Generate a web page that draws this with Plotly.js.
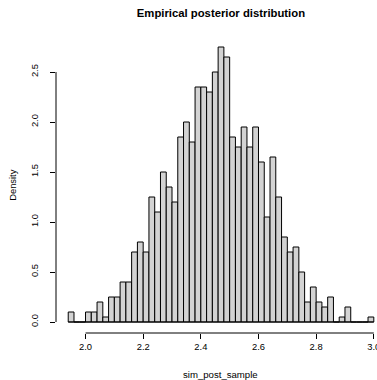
<!DOCTYPE html>
<html>
<head>
<meta charset="utf-8">
<script src="https://cdn.plot.ly/plotly-3.0.1.min.js"></script>
<style>
html, body { margin: 0; padding: 0; background: #ffffff; overflow: hidden; }
#chart { width: 377px; height: 380px; }
</style>
</head>
<body>
<div id="chart"></div>
<script>
// Histogram of sim_post_sample (bin width 0.02)
const binStart = [1.94, 1.96, 1.98, 2.00, 2.02, 2.04, 2.06, 2.08, 2.10, 2.12,
                  2.14, 2.16, 2.18, 2.20, 2.22, 2.24, 2.26, 2.28, 2.30, 2.32,
                  2.34, 2.36, 2.38, 2.40, 2.42, 2.44, 2.46, 2.48, 2.50, 2.52,
                  2.54, 2.56, 2.58, 2.60, 2.62, 2.64, 2.66, 2.68, 2.70, 2.72,
                  2.74, 2.76, 2.78, 2.80, 2.82, 2.84, 2.86, 2.88, 2.90, 2.92,
                  2.94, 2.96, 2.98];
const density = [0.10, 0.00, 0.00, 0.10, 0.10, 0.20, 0.05, 0.25, 0.25, 0.40,
                 0.40, 0.70, 0.80, 0.70, 1.25, 1.10, 1.50, 1.35, 1.20, 1.85,
                 2.00, 1.80, 2.35, 2.35, 2.30, 2.50, 2.75, 2.65, 1.85, 1.75,
                 1.95, 1.75, 1.95, 1.60, 1.05, 1.65, 1.25, 0.85, 0.70, 0.75,
                 0.50, 0.20, 0.35, 0.20, 0.15, 0.25, 0.00, 0.05, 0.15, 0.00,
                 0.00, 0.00, 0.05];
const binWidth = 0.02;
const xTicks = [2.0, 2.2, 2.4, 2.6, 2.8, 3.0];
const yTicks = [0.0, 0.5, 1.0, 1.5, 2.0, 2.5];
const xTickText = ["2.0", "2.2", "2.4", "2.6", "2.8", "3.0"];
const yTickText = ["0.0", "0.5", "1.0", "1.5", "2.0", "2.5"];
const titleText = "Empirical posterior distribution";
const xLabel = "sim_post_sample";
const yLabel = "Density";

const FONT = "Liberation Sans, Arial, Helvetica, sans-serif";
const centers = binStart.map(b => b + binWidth / 2);
const lastEdge = binStart[binStart.length - 1] + binWidth;

const trace = {
  type: "bar",
  x: centers,
  y: density,
  width: binStart.map(() => binWidth),
  marker: { color: "#D3D3D3", line: { color: "#000000", width: 1 } },
  hoverinfo: "x+y"
};

const layout = {
  width: 377,
  height: 380,
  margin: { l: 56, r: 0, t: 36, b: 47, pad: 0 },
  paper_bgcolor: "#ffffff",
  plot_bgcolor: "#ffffff",
  showlegend: false,
  bargap: 0,
  font: { family: FONT, size: 9.4, color: "#000000" },
  title: {
    text: titleText,
    font: { family: FONT, size: 11.3, weight: "bold", color: "#000000" },
    xref: "container", x: 0.586, xanchor: "center",
    yref: "container", y: 0.966, yanchor: "middle"
  },
  xaxis: {
    range: [1.8976, 3.0111],
    tickmode: "array", tickvals: xTicks, ticktext: xTickText,
    ticks: "outside", ticklen: 5, tickwidth: 1, tickcolor: "#000000",
    ticklabeloverflow: "allow",
    showline: false, showgrid: false, zeroline: false,
    tickfont: { family: FONT, size: 9.4, color: "#000000" },
    fixedrange: true
  },
  yaxis: {
    range: [-0.11, 2.86],
    tickmode: "array", tickvals: yTicks, ticktext: yTickText,
    ticks: "outside", ticklen: 5, tickwidth: 1, tickcolor: "#000000",
    tickangle: -90,
    ticklabelstandoff: 8,
    showline: false, showgrid: false, zeroline: false,
    tickfont: { family: FONT, size: 9.4, color: "#000000" },
    fixedrange: true
  },
  shapes: [
    { type: "line", xref: "x", yref: "paper", x0: xTicks[0], x1: xTicks[xTicks.length - 1], y0: 0, y1: 0,
      line: { color: "#000000", width: 1 } },
    { type: "line", xref: "paper", yref: "y", x0: 0, x1: 0, y0: yTicks[0], y1: yTicks[yTicks.length - 1],
      line: { color: "#000000", width: 1 } },
    { type: "line", xref: "x", yref: "y", x0: binStart[0], x1: lastEdge, y0: 0, y1: 0,
      line: { color: "#000000", width: 1 } }
  ],
  annotations: [
    { text: xLabel, xref: "paper", yref: "paper", x: 0.514, y: 0, yshift: -41,
      xanchor: "center", yanchor: "middle", showarrow: false, borderpad: 3,
      font: { family: FONT, size: 9.6, color: "#000000" } },
    { text: yLabel, xref: "paper", yref: "paper", x: -0.136, y: 0.5,
      xanchor: "center", yanchor: "middle", textangle: -90, showarrow: false, borderpad: 3,
      font: { family: FONT, size: 9.4, color: "#000000" } }
  ]
};

Plotly.newPlot("chart", [trace], layout, { staticPlot: true, displayModeBar: false });
</script>
</body>
</html>
